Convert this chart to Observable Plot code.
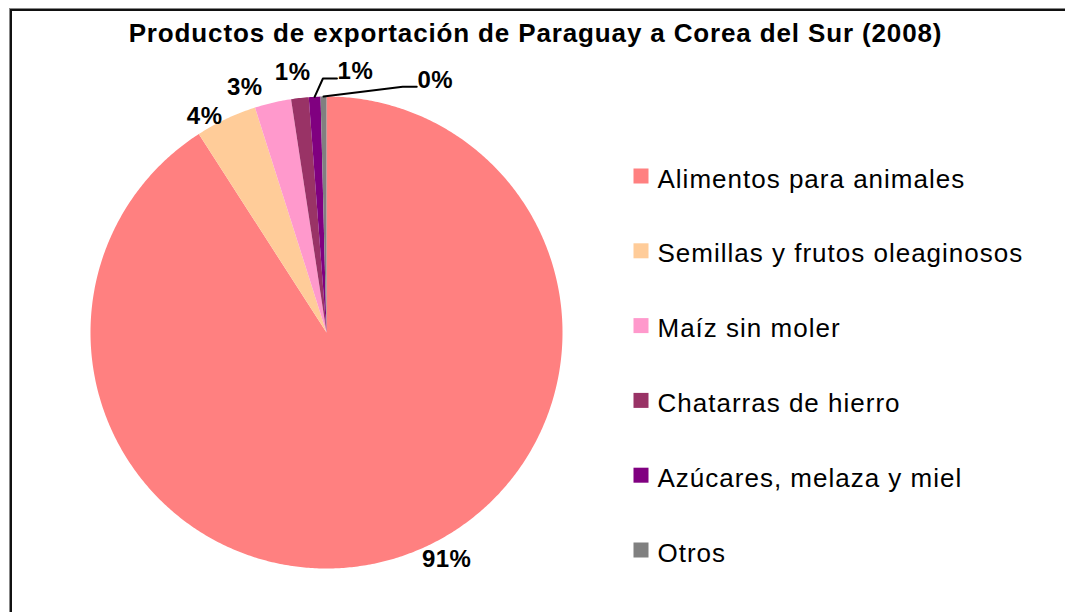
<!DOCTYPE html>
<html><head><meta charset="utf-8">
<script src="https://cdn.jsdelivr.net/npm/d3@7"></script>
<script src="https://cdn.jsdelivr.net/npm/@observablehq/plot@0.6"></script>
<style>
body{margin:0;background:#fff;}
#wrap{position:relative;width:1065px;height:612px;overflow:hidden;background:#fff;}
#frame{position:absolute;left:10px;top:9px;width:1100px;height:700px;border:2px solid #111;box-sizing:border-box;pointer-events:none;box-shadow:-1px -1px 0 #888;}
</style></head><body><div id="wrap"><div id="frame"></div></div>
<script>
// ---- data ----
const categories = ["Alimentos para animales","Semillas y frutos oleaginosos","Maíz sin moler","Chatarras de hierro","Azúcares, melaza y miel","Otros"];
const values = [90.9, 4.2, 2.5, 1.2, 0.8, 0.4];
const labels = ["91%","4%","3%","1%","1%","0%"];
const colors = ["#FF8080","#FFCC99","#FF99CC","#993366","#800080","#808080"];
const title = "Productos de exportación de Paraguay a Corea del Sur (2008)";

// ---- layout ----
const cx = 326, cy = 332, R = 236;
const labelPolar = [[152,256],[-29.3,249],[-18.4,259],[-7.4,263],[6.3,263.6],[23.2,276]]; // deg, radius
const hasLeader = [false,false,false,false,true,true];
const legendX = 641, legendY0 = 176, legendStep = 74.8, sq = 15;

const rad = d => d * Math.PI / 180;
const polar = (a, r) => [cx + Math.sin(a) * r, cy - Math.cos(a) * r];

const arcs = d3.pie().sort(null).value(d => d.value)(categories.map((c, i) => ({cat: c, value: values[i], i})));

// polygon points for each slice
const slicePts = [];
arcs.forEach(a => {
  const c = a.data.cat;
  slicePts.push({cat: c, x: cx, y: cy});
  const n = Math.max(2, Math.ceil((a.endAngle - a.startAngle) / rad(0.5)));
  for (let k = 0; k <= n; k++) {
    const t = a.startAngle + (a.endAngle - a.startAngle) * k / n;
    const [x, y] = polar(t, R);
    slicePts.push({cat: c, x, y});
  }
});

// labels
const labelData = arcs.map((a, i) => {
  const [x, y] = polar(rad(labelPolar[i][0]), labelPolar[i][1]);
  return {text: labels[i], x, y, i, mid: (a.startAngle + a.endAngle) / 2};
});

// leader lines
const leaderPts = [];
labelData.forEach(d => {
  if (!hasLeader[d.i]) return;
  const [sx, sy] = polar(d.mid, R);
  const left = d.x - 17.5;
  const ly = d.y + 8;
  leaderPts.push({k: d.i, x: sx, y: sy});
  leaderPts.push({k: d.i, x: left - 15, y: ly});
  leaderPts.push({k: d.i, x: left - 1, y: ly});
});

const legendData = categories.map((c, i) => ({cat: c, i, yc: legendY0 + legendStep * i}));

const font = "'Liberation Sans', Arial, sans-serif";

const plot = Plot.plot({
  width: 1065, height: 612, margin: 0,
  x: {type: "identity", axis: null}, y: {type: "identity", axis: null},
  color: {domain: categories, range: colors},
  style: {fontFamily: font, background: "transparent", overflow: "visible"},
  marks: [
    Plot.line(slicePts, {x: "x", y: "y", z: "cat", fill: "cat", stroke: "none"}),
    Plot.line(leaderPts, {x: "x", y: "y", z: "k", stroke: "#000", strokeWidth: 2}),
    Plot.text(labelData, {x: "x", y: d => d.y + 1, text: "text", fontSize: 24, fontWeight: "bold", fill: "#000", fontFamily: font, textAnchor: "middle", lineAnchor: "middle"}),
    Plot.text([title], {x: () => 535, y: () => 32.7, text: d => d, fontSize: 26, fontWeight: "bold", fill: "#000", fontFamily: font, textAnchor: "middle", lineAnchor: "middle"}),
    Plot.rect(legendData, {x1: () => legendX - sq / 2, x2: () => legendX + sq / 2, y1: d => d.yc - sq / 2, y2: d => d.yc + sq / 2, fill: "cat"}),
    Plot.text(legendData, {x: () => 657, y: d => d.yc + 2.7, text: "cat", fontSize: 26, fill: "#000", fontFamily: font, textAnchor: "start", lineAnchor: "middle"})
  ]
});
plot.style.position = "absolute";
plot.style.left = "0";
plot.style.top = "0";
document.getElementById("wrap").appendChild(plot);

// letter spacing to mimic the reference's wider glyph advance
plot.querySelectorAll("text").forEach(t => {
  const s = t.textContent;
  if (s === title) t.style.letterSpacing = "0.86px";
  else if (categories.includes(s)) t.style.letterSpacing = "1px";
  else if (labels.includes(s)) t.style.letterSpacing = "0.5px";
});
</script>
</body></html>
